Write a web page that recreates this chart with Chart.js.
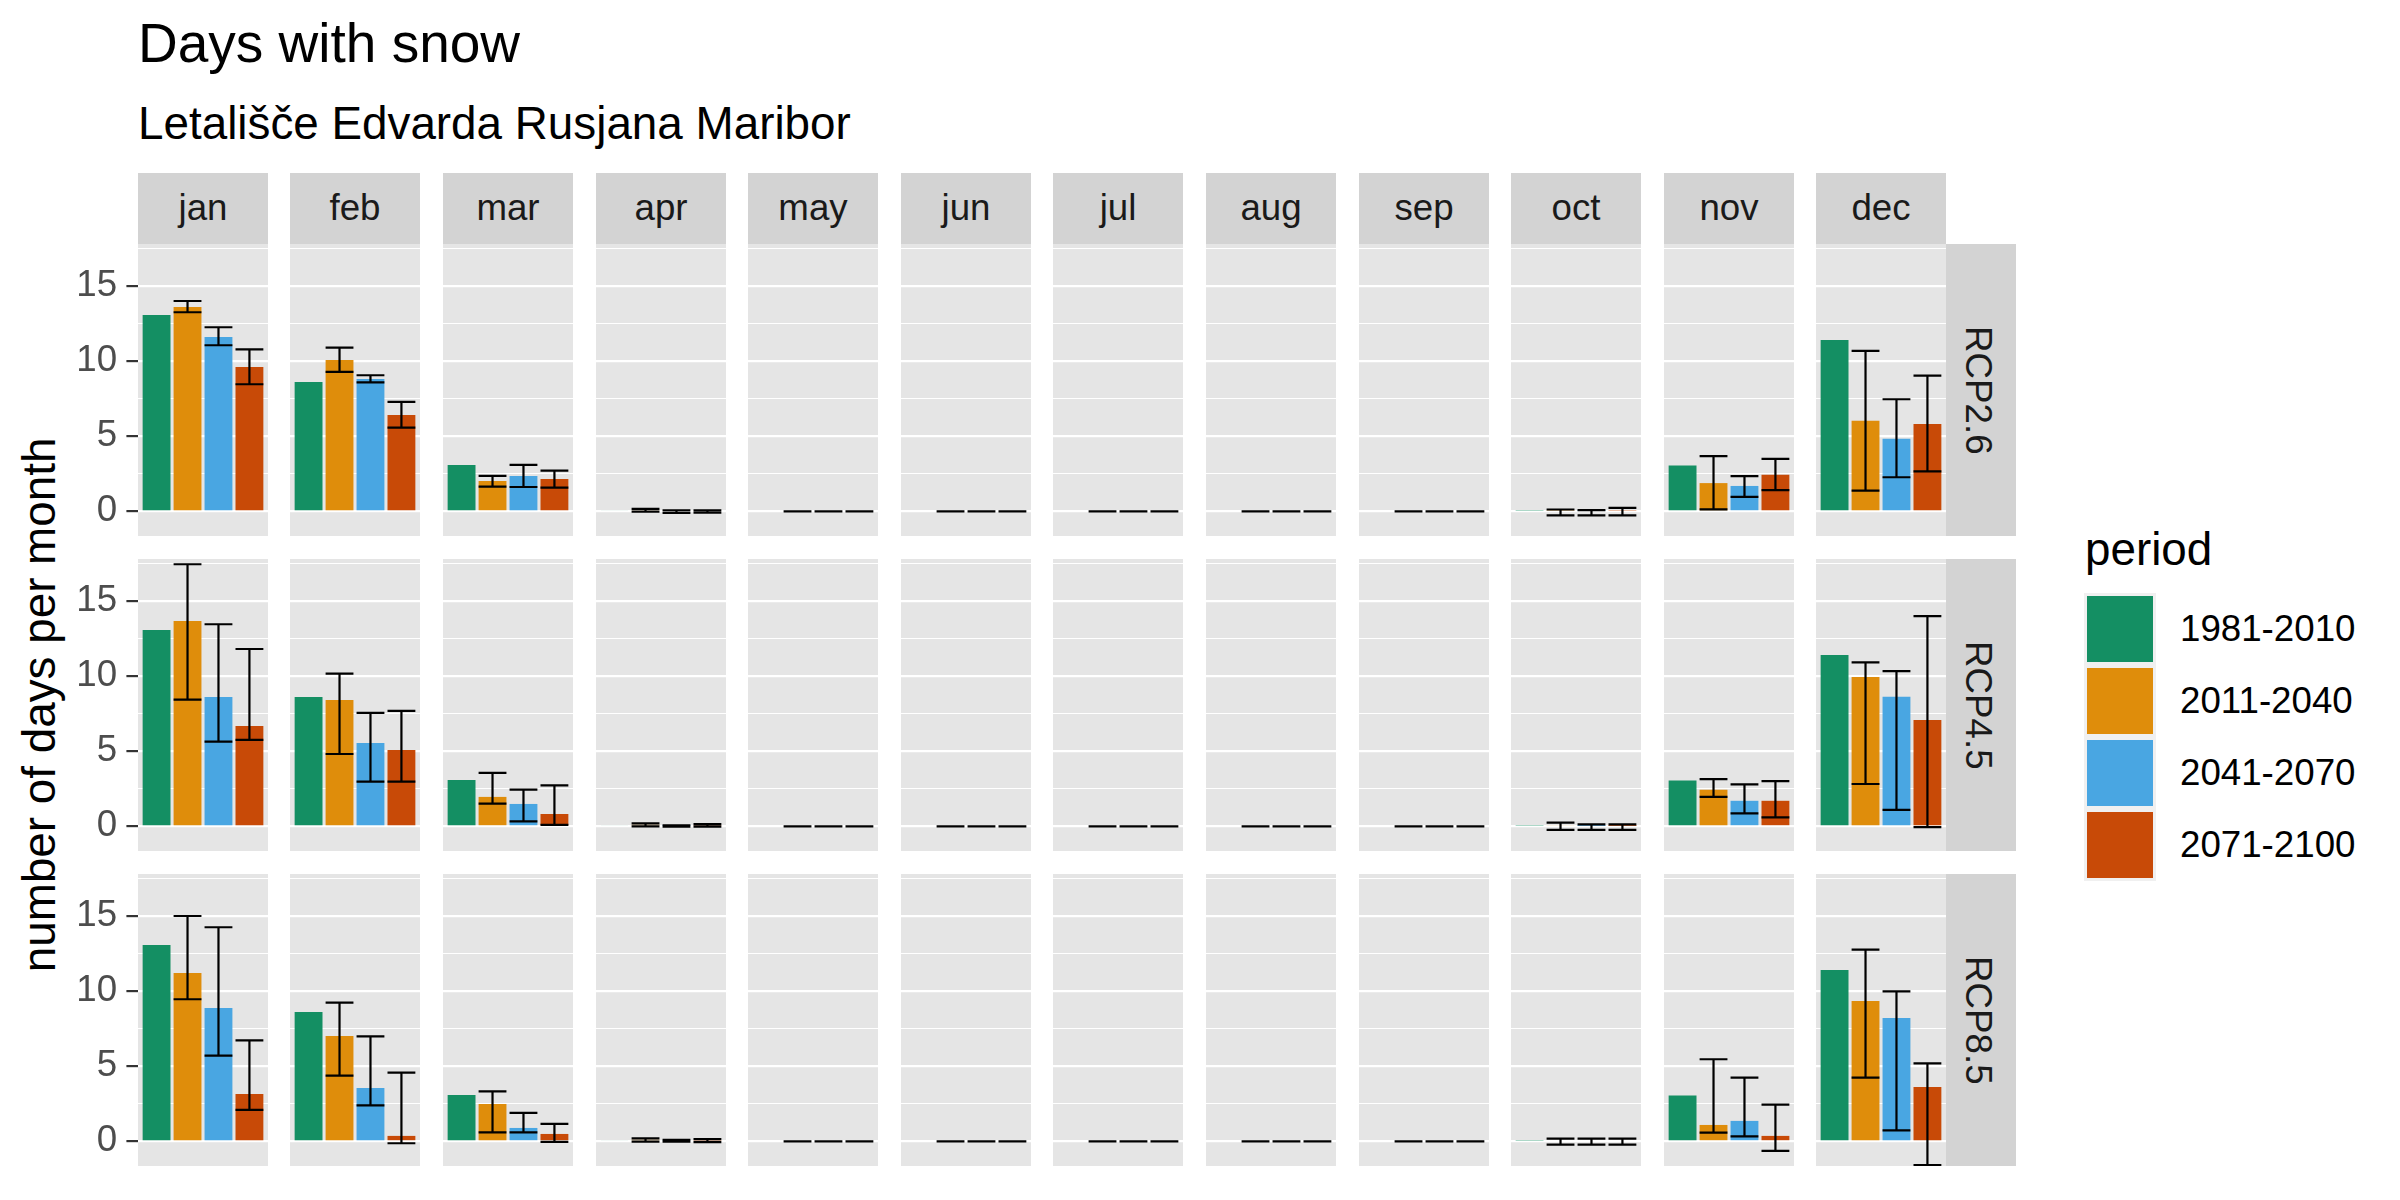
<!DOCTYPE html>
<html><head><meta charset="utf-8">
<script src="https://cdn.jsdelivr.net/npm/chart.js@4.4.1/dist/chart.umd.min.js"></script>
<style>
html,body{margin:0;padding:0;background:#fff;}
#root{position:relative;width:2400px;height:1200px;overflow:hidden;font-family:"Liberation Sans",Arial,Helvetica,sans-serif;}
.t{position:absolute;white-space:nowrap;line-height:1;}
.box{position:absolute;}
canvas{position:absolute;}
</style></head><body><div id="root"></div>
<script>
// ---------- DATA ----------
const months = ['jan','feb','mar','apr','may','jun','jul','aug','sep','oct','nov','dec'];
const periods = ['1981-2010','2011-2040','2041-2070','2071-2100'];
const scenarios = ['RCP2.6','RCP4.5','RCP8.5'];
const yTickValues = [0, 5, 10, 15];

// 1981-2010 reference (same in every scenario row)
const baseline = [13.09, 8.62, 3.09, 0.07, 0, 0, 0, 0, 0, 0.05, 3.06, 11.42];

// future periods: [2011-2040, 2041-2070, 2071-2100], each 12 months
const rcp26Mean = [
  [13.62, 10.09, 2.02, 0.08, 0, 0, 0, 0, 0, 0.05, 1.88, 6.03],
  [11.62, 8.82, 2.36, 0.00, 0, 0, 0, 0, 0, 0.02, 1.69, 4.83],
  [9.62, 6.42, 2.16, 0.00, 0, 0, 0, 0, 0, 0.05, 2.43, 5.82]];
const rcp26Low = [
  [13.27, 9.29, 1.64, -0.02, 0, 0, 0, 0, 0, -0.27, 0.13, 1.38],
  [11.07, 8.60, 1.62, -0.11, 0, 0, 0, 0, 0, -0.27, 0.96, 2.27],
  [8.47, 5.58, 1.58, -0.09, 0, 0, 0, 0, 0, -0.27, 1.41, 2.66]];
const rcp26High = [
  [14.02, 10.91, 2.36, 0.16, 0, 0, 0, 0, 0, 0.12, 3.68, 10.69],
  [12.27, 9.07, 3.09, 0.07, 0, 0, 0, 0, 0, 0.08, 2.35, 7.47],
  [10.80, 7.29, 2.71, 0.07, 0, 0, 0, 0, 0, 0.23, 3.50, 9.04]];

const rcp45Mean = [
  [13.69, 8.42, 1.96, 0.10, 0, 0, 0, 0, 0, 0.08, 2.43, 9.96],
  [8.62, 5.56, 1.49, 0.02, 0, 0, 0, 0, 0, 0.02, 1.70, 8.63],
  [6.69, 5.09, 0.82, 0.05, 0, 0, 0, 0, 0, 0.02, 1.70, 7.08]];
const rcp45Low = [
  [8.44, 4.82, 1.51, 0.00, 0, 0, 0, 0, 0, -0.24, 1.96, 2.82],
  [5.64, 2.98, 0.33, -0.03, 0, 0, 0, 0, 0, -0.24, 0.86, 1.10],
  [5.76, 2.98, 0.09, -0.02, 0, 0, 0, 0, 0, -0.24, 0.60, -0.05]];
const rcp45High = [
  [17.47, 10.18, 3.56, 0.20, 0, 0, 0, 0, 0, 0.24, 3.14, 10.93],
  [13.47, 7.56, 2.44, 0.06, 0, 0, 0, 0, 0, 0.13, 2.80, 10.35],
  [11.82, 7.69, 2.73, 0.15, 0, 0, 0, 0, 0, 0.13, 3.01, 14.01]];

const rcp85Mean = [
  [11.22, 7.02, 2.49, 0.10, 0, 0, 0, 0, 0, 0.00, 1.09, 9.36],
  [8.89, 3.56, 0.89, 0.05, 0, 0, 0, 0, 0, 0.00, 1.36, 8.22],
  [3.16, 0.36, 0.49, 0.05, 0, 0, 0, 0, 0, 0.00, 0.36, 3.62]];
const rcp85Low = [
  [9.47, 4.38, 0.60, -0.02, 0, 0, 0, 0, 0, -0.22, 0.58, 4.24],
  [5.71, 2.40, 0.60, -0.02, 0, 0, 0, 0, 0, -0.22, 0.33, 0.73],
  [2.09, -0.13, -0.04, -0.05, 0, 0, 0, 0, 0, -0.22, -0.64, -1.58]];
const rcp85High = [
  [15.02, 9.24, 3.33, 0.20, 0, 0, 0, 0, 0, 0.18, 5.47, 12.78],
  [14.27, 7.00, 1.89, 0.10, 0, 0, 0, 0, 0, 0.18, 4.24, 10.00],
  [6.73, 4.58, 1.16, 0.15, 0, 0, 0, 0, 0, 0.18, 2.44, 5.20]];

const scenarioMean = [rcp26Mean, rcp45Mean, rcp85Mean];
const scenarioLow = [rcp26Low, rcp45Low, rcp85Low];
const scenarioHigh = [rcp26High, rcp45High, rcp85High];

// ---------- STYLE / LAYOUT ----------
const periodColors = ['#148F63', '#DF8D0B', '#49A6E2', '#C84A07'];
const FONT = '"Liberation Sans", Arial, Helvetica, sans-serif';
const PANEL_BG = '#E5E5E5';
const STRIP_BG = '#D3D3D3';
const colLeft = c => Math.round(137.8 + 152.6 * c);
const rowTop = r => Math.round(244.2 + 315 * r);
const PW = 130, PH = 292;
const YMAX = 17.82, YMIN = 17.82 - PH / 15;
const AXIS_LEFT = 64;

const root = document.getElementById('root');
function addText(txt, left, top, size, color, extra) {
  const d = document.createElement('div');
  d.className = 't';
  d.textContent = txt;
  d.style.left = left + 'px'; d.style.top = top + 'px';
  d.style.fontSize = size + 'px'; d.style.color = color;
  if (extra) Object.assign(d.style, extra);
  root.appendChild(d);
  return d;
}
function addBox(left, top, w, h, bg) {
  const d = document.createElement('div');
  d.className = 'box';
  Object.assign(d.style, {left: left + 'px', top: top + 'px', width: w + 'px', height: h + 'px', background: bg});
  root.appendChild(d);
  return d;
}

// titles
addText('Days with snow', 138, 62.5 - 0.8465 * 55, 55, '#000');
addText('Letališče Edvarda Rusjana Maribor', 138, 140 - 0.8465 * 45.8, 45.8, '#000');

// column strips
months.forEach((m, c) => {
  addBox(colLeft(c), 173, PW, 71, STRIP_BG);
  addText(m, colLeft(c), 221.4 - 0.8465 * 36.7, 36.7, '#1A1A1A', {width: PW + 'px', textAlign: 'center'});
});
// row strips
scenarios.forEach((s, r) => {
  addBox(1946, rowTop(r), 70, PH, STRIP_BG);
  const cy = rowTop(r) + PH / 2;
  const W = PH;
  addText(s, 1977.7 - W / 2, cy - 36.7 / 2, 36.7, '#1A1A1A',
    {width: W + 'px', textAlign: 'center', transform: 'rotate(90deg)'});
});
// y axis title
(function () {
  const W = 700, cy = (rowTop(0) + rowTop(2) + PH) / 2;
  addText('number of days per month', 39.5 - W / 2, cy - 45.8 / 2, 45.8, '#000',
    {width: W + 'px', textAlign: 'center', transform: 'rotate(-90deg)'});
})();
// legend
addText('period', 2085, 565.7 - 0.8465 * 45.8, 45.8, '#000');
addBox(2084, 593, 72, 288, '#F0F0F0');
periods.forEach((p, k) => {
  addBox(2087, 596 + 72 * k, 66, 66, periodColors[k]);
  addText(p, 2180, 642.5 + 72 * k - 0.8465 * 36.7, 36.7, '#000');
});

// ---------- plugins ----------
const panelBg = {
  id: 'panelBg',
  beforeDraw(chart) {
    const a = chart.chartArea, ctx = chart.ctx;
    ctx.save(); ctx.fillStyle = PANEL_BG;
    ctx.fillRect(a.left, a.top, a.right - a.left, a.bottom - a.top);
    ctx.restore();
  }
};
const errorBars = {
  id: 'errorBars',
  afterDatasetsDraw(chart) {
    const ds = chart.data.datasets[0];
    const meta = chart.getDatasetMeta(0);
    const ys = chart.scales.y, ctx = chart.ctx;
    ctx.save();
    ctx.strokeStyle = '#000'; ctx.lineWidth = 2.2; ctx.lineCap = 'butt';
    meta.data.forEach((bar, i) => {
      const lo = ds.errLow[i], hi = ds.errHigh[i];
      if (lo == null || hi == null) return;
      const x = bar.x, hw = bar.width / 2;
      const y1 = ys.getPixelForValue(hi), y2 = ys.getPixelForValue(lo);
      ctx.beginPath();
      ctx.moveTo(x - hw, y1); ctx.lineTo(x + hw, y1);
      ctx.moveTo(x - hw, y2); ctx.lineTo(x + hw, y2);
      ctx.moveTo(x, y1); ctx.lineTo(x, y2);
      ctx.stroke();
    });
    ctx.restore();
  }
};

// ---------- panels ----------
scenarios.forEach((s, r) => {
  months.forEach((m, c) => {
    const first = c === 0;
    const left = first ? AXIS_LEFT : colLeft(c);
    const axisW = first ? colLeft(0) - AXIS_LEFT : 0;
    const cv = document.createElement('canvas');
    cv.width = PW + axisW; cv.height = PH;
    cv.style.left = left + 'px'; cv.style.top = rowTop(r) + 'px';
    cv.style.width = (PW + axisW) + 'px'; cv.style.height = PH + 'px';
    root.appendChild(cv);

    const vals = [baseline[c]].concat(scenarioMean[r].map(a => a[c]));
    const lows = [null].concat(scenarioLow[r].map(a => a[c]));
    const highs = [null].concat(scenarioHigh[r].map(a => a[c]));

    new Chart(cv.getContext('2d'), {
      type: 'bar',
      data: {
        datasets: [{
          data: vals.map((v, i) => ({x: i, y: v})),
          backgroundColor: periodColors,
          borderWidth: 0,
          barPercentage: 0.9,
          categoryPercentage: 1,
          errLow: lows, errHigh: highs
        }]
      },
      options: {
        responsive: false, animation: false, events: [],
        devicePixelRatio: 1,
        layout: {padding: 0},
        plugins: {legend: {display: false}, tooltip: {enabled: false}},
        scales: {
          x: {type: 'linear', min: -0.6, max: 3.6, offset: false, display: false, grid: {offset: false}},
          y: {
            type: 'linear', min: YMIN, max: YMAX,
            ticks: {
              stepSize: 2.5, includeBounds: false, autoSkip: false,
              display: first, padding: 9.3, color: '#4D4D4D',
              font: {family: FONT, size: 36.7},
              callback: v => (yTickValues.includes(v) ? String(v) : '')
            },
            grid: {
              color: '#FFFFFF',
              lineWidth: ctx => (ctx.tick && yTickValues.includes(ctx.tick.value)) ? 2.2 : 1.1,
              drawTicks: first, tickLength: 11.6, tickWidth: 2.2,
              tickColor: ctx => (ctx.tick && yTickValues.includes(ctx.tick.value)) ? '#333333' : 'rgba(0,0,0,0)'
            },
            border: {display: false},
            afterFit: sc => { sc.width = axisW; sc.paddingTop = 0; sc.paddingBottom = 0; }
          }
        }
      },
      plugins: [panelBg, errorBars]
    });
  });
});
</script></body></html>
